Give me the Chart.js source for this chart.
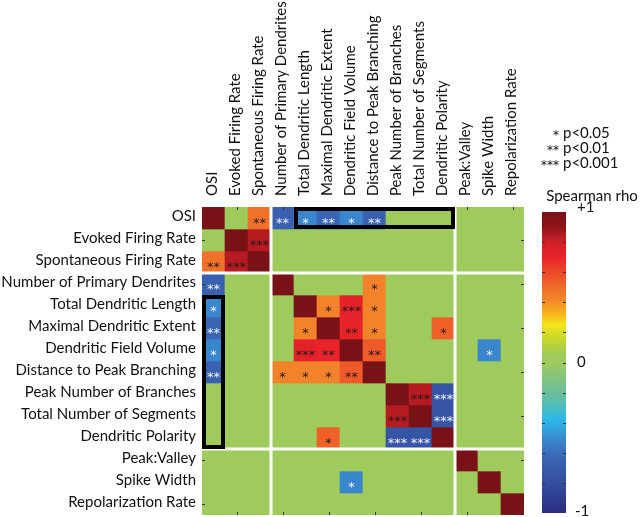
<!DOCTYPE html>
<html><head><meta charset="utf-8">
<script src="https://cdn.jsdelivr.net/npm/chart.js@4"></script>
<style>html,body{margin:0;padding:0;background:#fff;}canvas{display:block;}</style>
</head><body>
<canvas id="c" width="640" height="517"></canvas>
<script>
// ---- data ----
const labels = ['OSI','Evoked Firing Rate','Spontaneous Firing Rate','Number of Primary Dendrites','Total Dendritic Length','Maximal Dendritic Extent','Dendritic Field Volume','Distance to Peak Branching','Peak Number of Branches','Total Number of Segments','Dendritic Polarity','Peak:Valley','Spike Width','Repolarization Rate'];
// Spearman rho (non-significant shown as 0)
const rho = [
  [ 1.00, 0, 0.48,-0.66,-0.52,-0.64,-0.52,-0.66, 0, 0, 0, 0, 0, 0],
  [ 0, 1.00, 0.84, 0, 0, 0, 0, 0, 0, 0, 0, 0, 0, 0],
  [ 0.48, 0.84, 1.00, 0, 0, 0, 0, 0, 0, 0, 0, 0, 0, 0],
  [-0.66, 0, 0, 1.00, 0, 0, 0, 0.43, 0, 0, 0, 0, 0, 0],
  [-0.52, 0, 0, 0, 1.00, 0.43, 0.72, 0.43, 0, 0, 0, 0, 0, 0],
  [-0.64, 0, 0, 0, 0.43, 1.00, 0.70, 0.43, 0, 0, 0.53, 0, 0, 0],
  [-0.52, 0, 0, 0, 0.72, 0.70, 1.00, 0.55, 0, 0, 0, 0,-0.52, 0],
  [-0.66, 0, 0, 0.43, 0.43, 0.43, 0.55, 1.00, 0, 0, 0, 0, 0, 0],
  [ 0, 0, 0, 0, 0, 0, 0, 0, 1.00, 0.84,-0.75, 0, 0, 0],
  [ 0, 0, 0, 0, 0, 0, 0, 0, 0.84, 1.00,-0.75, 0, 0, 0],
  [ 0, 0, 0, 0, 0, 0.53, 0, 0,-0.75,-0.75, 1.00, 0, 0, 0],
  [ 0, 0, 0, 0, 0, 0, 0, 0, 0, 0, 0, 1.00, 0, 0],
  [ 0, 0, 0, 0, 0, 0,-0.52, 0, 0, 0, 0, 0, 1.00, 0],
  [ 0, 0, 0, 0, 0, 0, 0, 0, 0, 0, 0, 0, 0, 1.00]
];
// number of significance stars per cell
const sig = [
  [0,0,2,2,1,2,1,2,0,0,0,0,0,0],
  [0,0,3,0,0,0,0,0,0,0,0,0,0,0],
  [2,3,0,0,0,0,0,0,0,0,0,0,0,0],
  [2,0,0,0,0,0,0,1,0,0,0,0,0,0],
  [1,0,0,0,0,1,3,1,0,0,0,0,0,0],
  [2,0,0,0,1,0,2,1,0,0,1,0,0,0],
  [1,0,0,0,3,2,0,2,0,0,0,0,1,0],
  [2,0,0,1,1,1,2,0,0,0,0,0,0,0],
  [0,0,0,0,0,0,0,0,0,3,3,0,0,0],
  [0,0,0,0,0,0,0,0,3,0,3,0,0,0],
  [0,0,0,0,0,1,0,0,3,3,0,0,0,0],
  [0,0,0,0,0,0,0,0,0,0,0,0,0,0],
  [0,0,0,0,0,0,1,0,0,0,0,0,0,0],
  [0,0,0,0,0,0,0,0,0,0,0,0,0,0]
];
const groupBreaks = [3, 11];            // white separators before these indices
const boxOSIRow = [0, 4, 10];           // row, first col, last col
const boxOSICol = [0, 4, 10];           // col, first row, last row
const legendStars = ['*','**','***'];
const legendText = ['p<0.05','p<0.01','p<0.001'];
const cbarTitle = 'Spearman rho';
const cbarLabels = ['+1','0','-1'];
const cbarLabelVals = [1, 0, -1];

// ---- colormap ----
const cmapVals = [1.0,0.9,0.8,0.7,0.55,0.42,0.32,0.25,0.15,0.05,0,-0.15,-0.25,-0.38,-0.5,-0.65,-0.8,-1.0];
const cmapCols = ['#781216','#8e1419','#d01f27','#e8242a','#ee5a29','#f2862a','#f8b51c','#f4e41b','#c4d72e','#9fca58','#9ecb5c','#78c18c','#5fbcaa','#2bb9ea','#3a8bd0','#3a62b0','#344ea0','#2a2c80'];
function hex2rgb(h){return [1,3,5].map(i=>parseInt(h.substr(i,2),16));}
function cmap(v){
  if(v>=cmapVals[0]) return cmapCols[0];
  for(let i=0;i<cmapVals.length-1;i++){
    const a=cmapVals[i], b=cmapVals[i+1];
    if(v<=a && v>=b){
      const t=(a-v)/(a-b), c1=hex2rgb(cmapCols[i]), c2=hex2rgb(cmapCols[i+1]);
      const c=c1.map((x,k)=>Math.round(x+(c2[k]-x)*t));
      return 'rgb('+c.join(',')+')';
    }
  }
  return cmapCols[cmapCols.length-1];
}

const FONT = 'Lato, "Open Sans", sans-serif';

const datasets = rho.map((row, r) => ({
  data: row.map(() => [r, r + 1]),
  backgroundColor: row.map(v => cmap(v)),
  borderWidth: 0,
  grouped: false,
  barPercentage: 1,
  categoryPercentage: 1
}));

const deco = {
  id: 'deco',
  afterDatasetsDraw(chart) {
    const {ctx, chartArea: a, scales: {x, y}} = chart;
    const cw = x.getPixelForValue(1) - x.getPixelForValue(0);
    const cx = i => x.getPixelForValue(i);
    const ry = r => y.getPixelForValue(r);
    ctx.save();
    // stars
    ctx.font = '13px "DejaVu Sans", sans-serif';
    ctx.textAlign = 'center';
    ctx.textBaseline = 'alphabetic';
    sig.forEach((row, r) => row.forEach((n, c) => {
      if (!n) return;
      ctx.fillStyle = rho[r][c] < 0 ? '#eef2fb' : '#2a1a1a';
      ctx.fillText('*'.repeat(n), cx(c), ry(r + 0.5) + 9);
    }));
    // ticks
    ctx.strokeStyle = '#333'; ctx.lineWidth = 1;
    for (let i = 1; i < labels.length; i += 2) {
      const px = Math.round(cx(i)) + 0.5, py = Math.round(ry(i + 0.5)) + 0.5;
      ctx.beginPath();
      ctx.moveTo(px, a.top); ctx.lineTo(px, a.top + 3);
      ctx.moveTo(px, a.bottom); ctx.lineTo(px, a.bottom - 3);
      ctx.moveTo(a.left, py); ctx.lineTo(a.left + 3, py);
      ctx.moveTo(a.right, py); ctx.lineTo(a.right - 3, py);
      ctx.stroke();
    }
    // separators
    ctx.strokeStyle = '#fff'; ctx.lineWidth = 3;
    groupBreaks.forEach(b => {
      const px = cx(b) - cw / 2, py = ry(b);
      ctx.beginPath();
      ctx.moveTo(px, a.top); ctx.lineTo(px, a.bottom);
      ctx.moveTo(a.left, py); ctx.lineTo(a.right, py);
      ctx.stroke();
    });
    // boxes
    ctx.strokeStyle = '#000'; ctx.lineWidth = 4;
    {
      const [r, c0, c1] = boxOSIRow;
      const L = cx(c0) - cw / 2, R = cx(c1) + cw / 2, T = ry(r), B = ry(r + 1);
      ctx.strokeRect(L + 2, T + 2, R - L - 4, B - T - 4);
    }
    {
      const [c, r0, r1] = boxOSICol;
      const L = cx(c) - cw / 2, R = cx(c) + cw / 2, T = ry(r0), B = ry(r1 + 1);
      ctx.strokeRect(L + 2, T + 2, R - L - 4, B - T - 4);
    }
    // row labels
    ctx.fillStyle = '#111';
    ctx.font = '15px ' + FONT;
    ctx.textAlign = 'right'; ctx.textBaseline = 'middle';
    labels.forEach((l, r) => ctx.fillText(l, a.left - 6, ry(r + 0.5) - 2));
    // column labels
    labels.forEach((l, c) => {
      ctx.save();
      ctx.translate(cx(c) - 1, a.top - 11);
      ctx.rotate(-Math.PI / 2);
      ctx.textAlign = 'left'; ctx.textBaseline = 'middle';
      ctx.fillText(l, 0, 0);
      ctx.restore();
    });
    // significance legend
    ctx.font = '15px ' + FONT;
    legendStars.forEach((s, i) => {
      const yy = 133 + i * 15;
      ctx.textAlign = 'right'; ctx.textBaseline = 'middle';
      ctx.font = '12px "DejaVu Sans", sans-serif';
      ctx.fillText(s, 559, yy + 3);
      ctx.font = '15px ' + FONT;
      ctx.textAlign = 'left';
      ctx.fillText(legendText[i], 563, yy);
    });
    // colorbar
    const bx0 = 542, bx1 = 566, by0 = 212, by1 = 513;
    const vpix = v => by1 - (v + 1) / 2 * (by1 - by0);
    const g = ctx.createLinearGradient(0, by0, 0, by1);
    cmapVals.forEach((v, i) => g.addColorStop((1 - v) / 2, cmapCols[i]));
    ctx.fillStyle = g;
    ctx.fillRect(bx0, by0, bx1 - bx0, by1 - by0);
    ctx.strokeStyle = '#333'; ctx.lineWidth = 1;
    for (let k = -4; k <= 4; k++) {
      const py = Math.round(vpix(k * 0.2)) + 0.5;
      ctx.beginPath();
      ctx.moveTo(bx0, py); ctx.lineTo(bx0 + 3, py);
      ctx.moveTo(bx1, py); ctx.lineTo(bx1 - 3, py);
      ctx.stroke();
    }
    ctx.fillStyle = '#111';
    ctx.font = '15px ' + FONT;
    ctx.textAlign = 'center'; ctx.textBaseline = 'middle';
    ctx.fillText(cbarTitle, 592, 196);
    ctx.textAlign = 'left';
    cbarLabels.forEach((t, i) => {
      const v = cbarLabelVals[i];
      const yy = v === 1 ? by0 - 5 : (v === -1 ? by1 - 2 : vpix(v));
      ctx.fillText(t, v === -1 ? 575 : 577, yy);
    });
    ctx.restore();
  }
};

new Chart(document.getElementById('c'), {
  type: 'bar',
  data: { labels: labels, datasets: datasets },
  options: {
    responsive: false,
    animation: false,
    devicePixelRatio: 1,
    layout: { padding: { left: 202, right: 116, top: 207, bottom: 2 } },
    plugins: { legend: { display: false }, tooltip: { enabled: false } },
    scales: {
      x: { type: 'category', display: false, offset: true },
      y: { type: 'linear', display: false, min: 0, max: 14, reverse: true }
    }
  },
  plugins: [deco]
});
</script>
</body></html>
